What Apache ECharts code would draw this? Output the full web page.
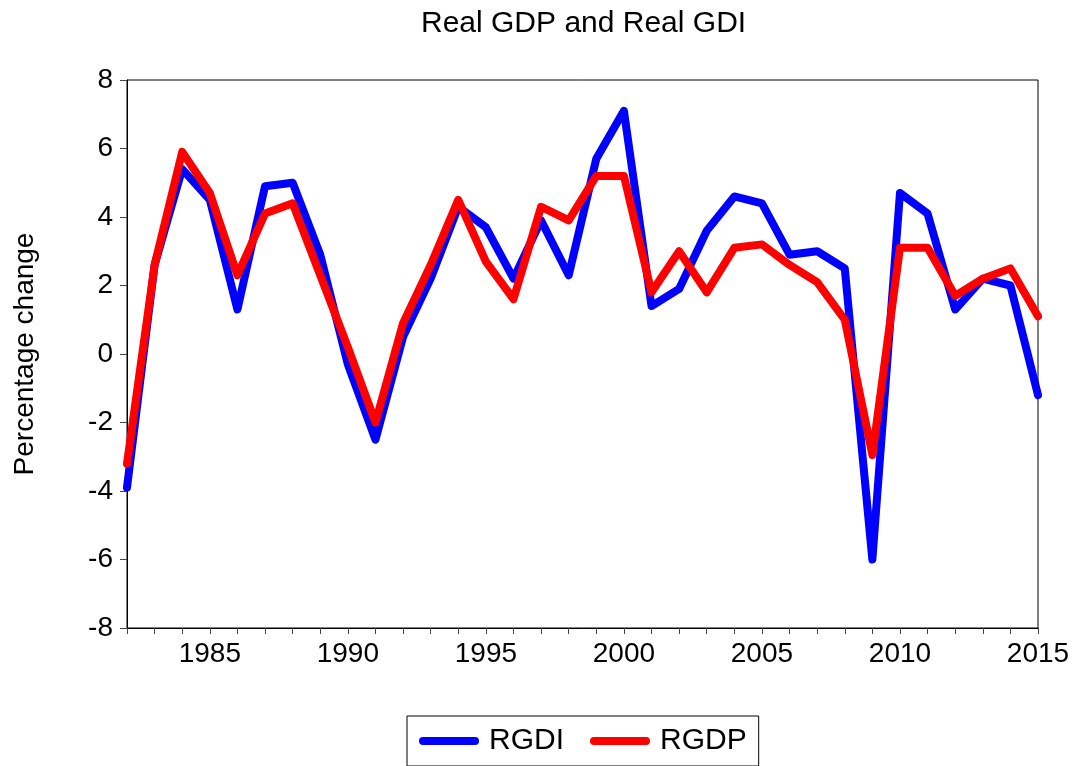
<!DOCTYPE html>
<html>
<head>
<meta charset="utf-8">
<script src="https://cdn.jsdelivr.net/npm/echarts@6/dist/echarts.min.js"></script>
<style>
  html, body { margin: 0; padding: 0; background: #fff; }
  #chart { width: 1085px; height: 766px; }
</style>
</head>
<body>
<div id="chart"></div>
<script>
// years on the x axis
const years = [];
for (let y = 1982; y <= 2015; y++) years.push(String(y));

// percentage change
const rgdi = [-3.9, 2.6, 5.4, 4.5, 1.3, 4.9, 5.0, 2.9, -0.3, -2.5,
  0.5, 2.2, 4.3, 3.7, 2.2, 3.9, 2.3, 5.7, 7.1, 1.4,
  1.9, 3.6, 4.6, 4.4, 2.9, 3.0, 2.5, -6.0, 4.7, 4.1,
  1.3, 2.2, 2.0, -1.2];
const rgdp = [-3.2, 2.6, 5.9, 4.7, 2.3, 4.1, 4.4, 2.3, 0.2, -2.0,
  0.9, 2.6, 4.5, 2.7, 1.6, 4.3, 3.9, 5.2, 5.2, 1.8,
  3.0, 1.8, 3.1, 3.2, 2.6, 2.1, 1.0, -2.95, 3.1, 3.1,
  1.7, 2.2, 2.5, 1.1];

const yTicks = { min: -8, max: 8, step: 2 };

const font = 'Liberation Sans, Arial, sans-serif';
const chart = echarts.init(document.getElementById('chart'));

// 图例图标：圆头粗线
const lineIcon = 'path://M4,0 L56,0 A4,4 0 0 1 56,8 L4,8 A4,4 0 0 1 4,0 Z';

const option = {
  backgroundColor: '#fff',
  animation: false,
  title: {
    text: 'Real GDP and Real GDI',
    left: 416,
    top: 4,
    textStyle: { color: '#000', fontSize: 30, fontWeight: 'normal', fontFamily: font }
  },
  legend: {
    left: 407,
    top: 716,
    padding: [10, 12, 10, 12],
    itemGap: 26,
    itemWidth: 60,
    itemHeight: 8,
    borderColor: '#000',
    borderWidth: 1,
    borderRadius: 0,
    textStyle: { color: '#000', fontSize: 30, fontFamily: font, padding: [0, 0, 0, 5] },
    data: [
      { name: 'RGDI', icon: lineIcon },
      { name: 'RGDP', icon: lineIcon }
    ]
  },
  grid: {
    left: 127,
    right: 47,
    top: 80,
    bottom: 138,
    show: true,
    borderColor: '#000',
    borderWidth: 1,
    backgroundColor: 'transparent'
  },
  xAxis: {
    type: 'category',
    data: years,
    boundaryGap: false,
    axisLine: { onZero: false, lineStyle: { color: '#000', width: 1 } },
    axisTick: { interval: 0, length: 6, lineStyle: { color: '#444' } },
    axisLabel: {
      interval: function (index, value) { return Number(value) % 5 === 0; },
      color: '#000',
      fontSize: 28,
      fontFamily: font,
      margin: 12
    },
    splitLine: { show: false }
  },
  yAxis: {
    type: 'value',
    min: yTicks.min,
    max: yTicks.max,
    interval: yTicks.step,
    name: 'Percentage change',
    nameLocation: 'middle',
    nameGap: 88,
    nameTextStyle: { color: '#000', fontSize: 28, fontFamily: font },
    axisLine: { show: true, lineStyle: { color: '#000', width: 1 } },
    axisTick: { show: true, length: 7, lineStyle: { color: '#444' } },
    axisLabel: { color: '#000', fontSize: 28, fontFamily: font, margin: 14 },
    splitLine: { show: false }
  },
  series: [
    {
      name: 'RGDI',
      type: 'line',
      data: rgdi,
      showSymbol: false,
      symbol: 'none',
      itemStyle: { color: '#0000ff' },
      lineStyle: { color: '#0000ff', width: 8, join: 'round', cap: 'round' }
    },
    {
      name: 'RGDP',
      type: 'line',
      data: rgdp,
      showSymbol: false,
      symbol: 'none',
      itemStyle: { color: '#ff0000' },
      lineStyle: { color: '#ff0000', width: 8, join: 'round', cap: 'round' }
    }
  ]
};

chart.setOption(option);
</script>
</body>
</html>
